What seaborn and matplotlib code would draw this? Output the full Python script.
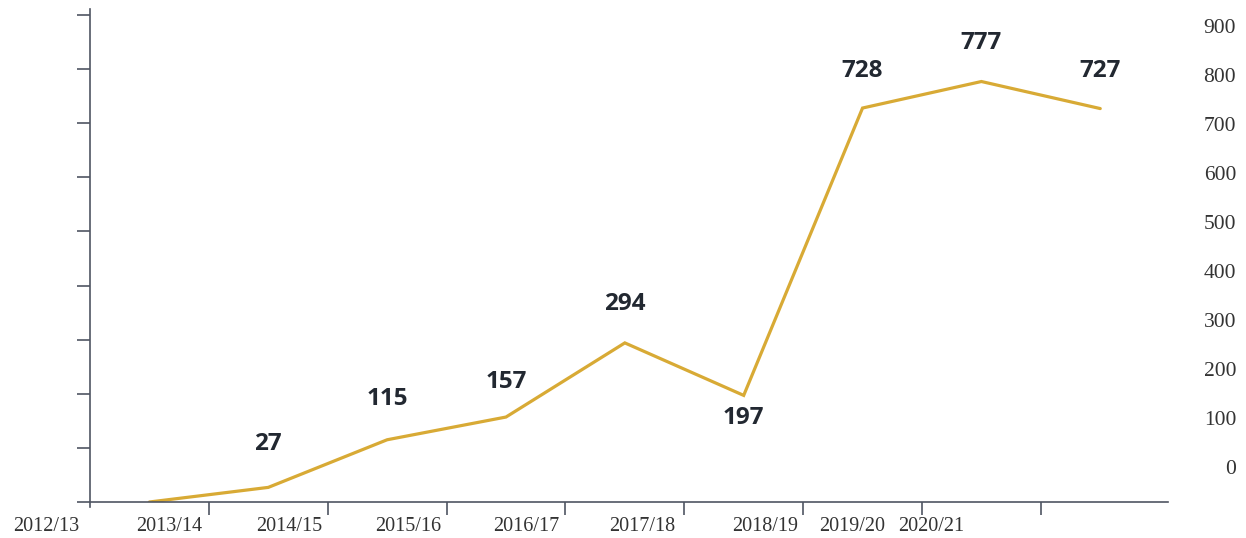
import matplotlib
matplotlib.use("Agg")
import matplotlib.pyplot as plt
import seaborn as sns
import pandas as pd
import numpy as np

# Yearly counts
years = ["2012/13", "2013/14", "2014/15", "2015/16", "2016/17",
         "2017/18", "2018/19", "2019/20", "2020/21"]
values = [0, 27, 115, 157, 294, 197, 728, 777, 727]
value_labels = ["", "27", "115", "157", "294", "197", "728", "777", "727"]
scale_ticks = [0, 100, 200, 300, 400, 500, 600, 700, 800, 900]

# Category label placement along the x axis (data units) and label offsets (points)
year_label_x = [-0.87, 0.17, 1.18, 2.18, 3.17, 4.15, 5.18, 5.91, 6.58]
label_offsets = [0, 31, 29, 25, 28, -16, 27, 28, 27]

df = pd.DataFrame({"idx": np.arange(len(values)), "value": values})

sns.set_style("white")
plt.rcParams["font.family"] = ["Liberation Serif", "DejaVu Serif"]

W, H = 1246, 538
fig = plt.figure(figsize=(W / 100, H / 100), dpi=100)
ax = fig.add_axes([90 / W, (H - 502) / H, (1168 - 90) / W, (502 - 9) / H])

line_color = "#D8AA35"
axis_color = "#4f5562"

sns.lineplot(data=df, x="idx", y="value", ax=ax, color=line_color,
             linewidth=2.3, solid_joinstyle="miter")

# Value annotations
for i, (v, lab, off) in enumerate(zip(values, value_labels, label_offsets)):
    if not lab:
        continue
    ax.annotate(lab, (i, v), xytext=(0, off), textcoords="offset points",
                ha="center", va="center", fontsize=17.5, fontweight="bold",
                family=["Open Sans", "DejaVu Sans"], color="#222831")

# Spines
for s in ["top", "right"]:
    ax.spines[s].set_visible(False)
ax.spines["left"].set_color(axis_color)
ax.spines["bottom"].set_color(axis_color)
ax.spines["left"].set_linewidth(1.2)
ax.spines["bottom"].set_linewidth(1.2)

# Left axis: tick marks only
ax.set_yticks(scale_ticks)
ax.set_yticklabels([])
ax.tick_params(axis="y", which="major", direction="out", length=9.5,
               width=1.2, color=axis_color, left=True)

# Bottom axis: marks between categories, year labels written below
ax.set_xticks(np.arange(0.5, 8, 1.0))
ax.set_xticklabels([])
ax.tick_params(axis="x", which="major", direction="out", length=9,
               width=1.2, color=axis_color, bottom=True)
for x, lab in zip(year_label_x, years):
    ax.text(x, -0.049, lab, transform=ax.get_xaxis_transform(),
            ha="center", va="center", fontsize=14.5, color="#333333",
            clip_on=False)
ax.set_xlabel("")
ax.set_ylabel("")

ax.set_xlim(-0.5, 8.57)
ax.set_ylim(0, 911)
ax.spines["left"].set_bounds(-9, 911)

# Secondary scale labels on the right
ax2 = ax.twinx()
ax2.set_ylim(-71.4, 934)
ax2.set_yticks(scale_ticks)
ax2.set_yticklabels([str(t) for t in scale_ticks], fontsize=15.5, color="#333333")
for t in ax2.get_yticklabels():
    t.set_horizontalalignment("right")
ax2.tick_params(axis="y", length=0, pad=49)
for s in ax2.spines.values():
    s.set_visible(False)

fig.savefig("out.png", dpi=100, facecolor="white")
